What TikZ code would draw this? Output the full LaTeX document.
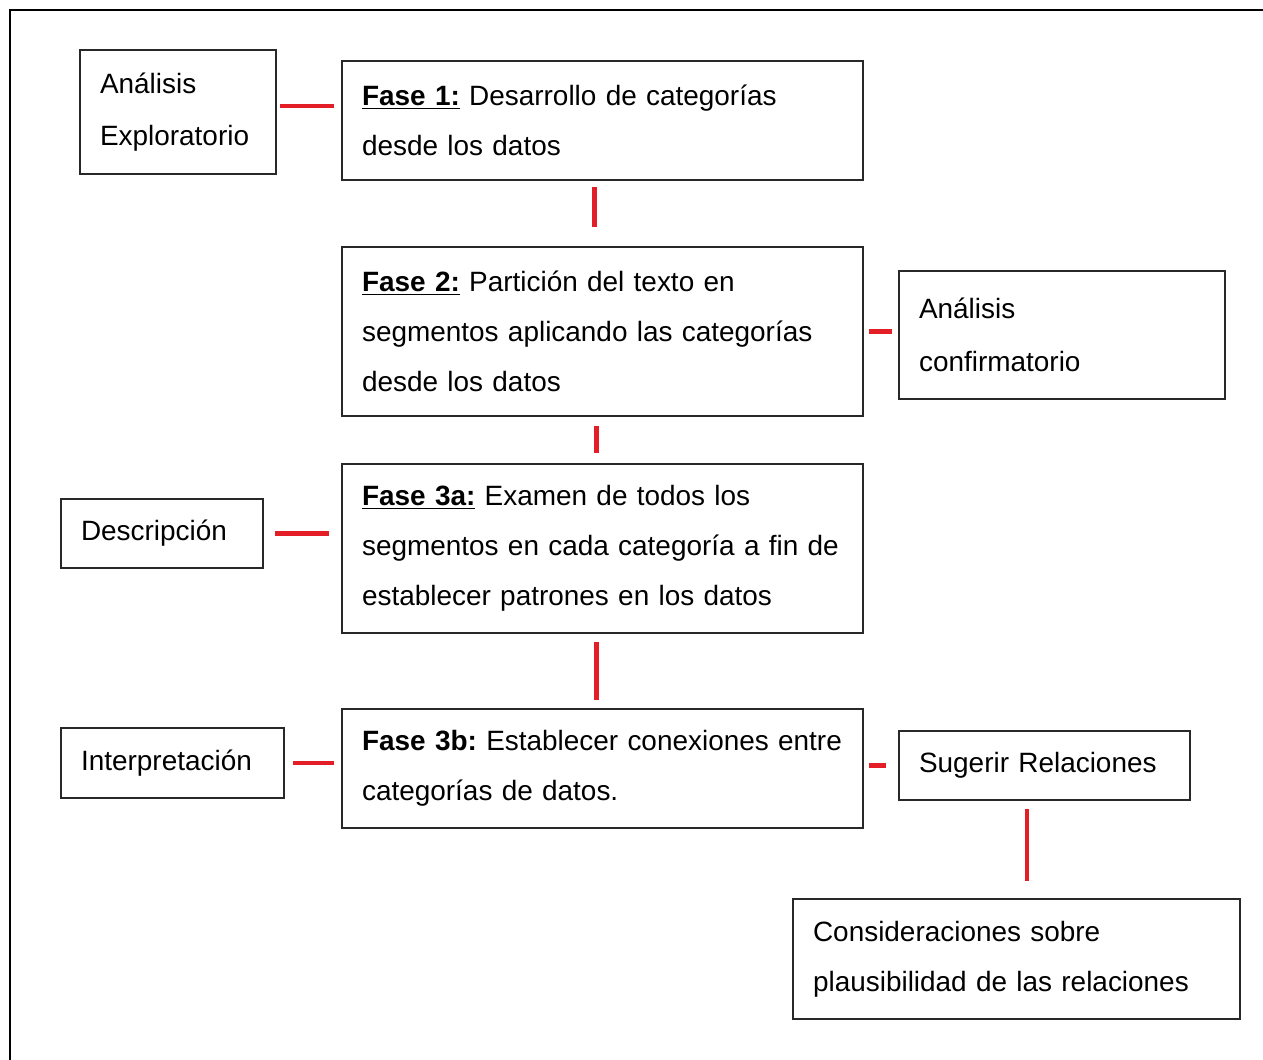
\documentclass[tikz,border=0pt]{standalone}
\usepackage{fontspec}
\setmainfont{Liberation Sans}
\usepackage{tikz}
\usetikzlibrary{positioning}

\definecolor{linkred}{RGB}{228,30,38}
\definecolor{boxline}{RGB}{40,40,40}
\frenchspacing

\begin{document}
\begin{tikzpicture}[x=0.02cm, y=-0.02cm,
    box/.style={draw=boxline, line width=1.1pt, inner xsep=0.4cm, inner ysep=0pt,
                align=left, font=\fontsize{15.9}{28.5}\selectfont},
    link/.style={draw=linkred, line width=2.8pt}]
    \useasboundingbox (0,0) rectangle (1263,1059);
    \draw[line width=1.5pt] (10,1070) -- (10,10) -- (1270,10);

    \node[box, text width=3.12cm, minimum height=2.48cm] (expl) at (178,112) {
        Análisis\\[1pt]
        Exploratorio
    };

    \node[box, text width=9.62cm, minimum height=2.38cm] (f1) at (602.5,120.5) {
        \underline{\textbf{Fase 1:}} Desarrollo de categorías\\
        desde los datos
    };

    \node[box, text width=9.62cm, minimum height=3.38cm] (f2) at (602.5,331.5) {
        \underline{\textbf{Fase 2:}} Partición del texto en\\
        segmentos aplicando las categorías\\
        desde los datos
    };

    \node[box, text width=5.72cm, minimum height=2.56cm] (conf) at (1062,335) {
        Análisis\\[2pt]
        confirmatorio
    };

    \node[box, text width=9.62cm, minimum height=3.38cm] (f3a) at (602.5,548.5) {
        \underline{\textbf{Fase 3a:}} Examen de todos los\\
        segmentos en cada categoría a fin de\\
        establecer patrones en los datos
    };

    \node[box, text width=3.24cm, minimum height=1.38cm] (desc) at (162,533.5) {Descripción};

    \node[box, text width=9.62cm, minimum height=2.38cm] (f3b) at (602.5,768.5) {
        \textbf{Fase 3b:} Establecer conexiones entre\\
        categorías de datos.
    };

    \node[box, text width=3.66cm, minimum height=1.4cm] (interp) at (172.5,763) {Interpretación};

    \node[box, text width=5.02cm, minimum height=1.38cm] (rel) at (1044.5,765.5) {Sugerir Relaciones};

    \node[box, text width=8.14cm, minimum height=2.4cm] (plaus) at (1016.5,959) {
        Consideraciones sobre\\
        plausibilidad de las relaciones
    };

    \draw[link, shorten <=0.06cm, shorten >=0.14cm] ([yshift=0.12cm]expl.east) -- ([yshift=0.12cm]expl.east -| f1.west);
    \draw[link, shorten <=0.12cm, shorten >=0.38cm] ([xshift=-0.16cm]f1.south) -- ([xshift=-0.16cm]f2.north);
    \draw[link, shorten <=0.1cm, shorten >=0.12cm] (f2.east) -- (f2.east -| conf.west);
    \draw[link, shorten <=0.18cm, shorten >=0.2cm] ([xshift=-0.12cm]f2.south) -- ([xshift=-0.12cm]f3a.north);
    \draw[link, shorten <=0.22cm, shorten >=0.24cm] (desc.east) -- (desc.east -| f3a.west);
    \draw[link, shorten <=0.16cm, shorten >=0.16cm] ([xshift=-0.12cm]f3a.south) -- ([xshift=-0.12cm]f3b.north);
    \draw[link, shorten <=0.16cm, shorten >=0.14cm] (interp.east) -- (interp.east -| f3b.west);
    \draw[link, shorten <=0.1cm, shorten >=0.24cm] (rel.west -| f3b.east) -- (rel.west);
    \draw[link, shorten <=0.16cm, shorten >=0.34cm] ([xshift=-0.35cm]rel.south) -- ([xshift=-0.35cm]rel.south |- plaus.north);
\end{tikzpicture}
\end{document}
